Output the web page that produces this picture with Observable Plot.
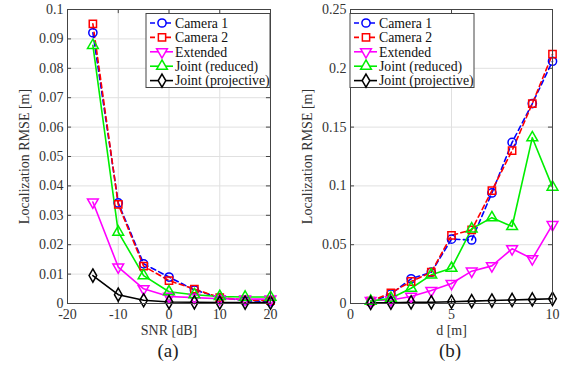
<!DOCTYPE html>
<html><head><meta charset="utf-8">
<script src="https://cdn.jsdelivr.net/npm/d3@7"></script>
<script src="https://cdn.jsdelivr.net/npm/@observablehq/plot@0.6"></script>
<style>
body{margin:0;background:#fff;}
#wrap{position:relative;width:571px;height:369px;font-family:"Liberation Serif",serif;overflow:hidden;}
.panel{position:absolute;top:0;}
.cap{position:absolute;top:340px;font-size:19px;color:#222;transform:translateX(-50%);font-family:"Liberation Serif",serif;}
</style></head><body><div id="wrap"></div>
<script>
const seriesNames = ["Camera 1","Camera 2","Extended","Joint (reduced)","Joint (projective)"];
const seriesColors = ["#0000ff","#ff0000","#ff00ff","#00ee00","#000000"];
const seriesSymbols = ["circle","square","triangle","triangle","diamond"];
const seriesRotate = [0,0,180,0,0];
const seriesDashed = [true,true,false,false,false];

// Panel (a): RMSE vs SNR
const snr = [-15,-10,-5,0,5,10,15,20];
const snrCamera1 = [0.0921,0.0342,0.0135,0.0090,0.0046,0.0020,0.0010,0.0006];
const snrCamera2 = [0.0951,0.0337,0.0127,0.0078,0.0049,0.0020,0.0012,0.0010];
const snrExtended = [0.0345,0.0124,0.0050,0.0024,0.0020,0.0016,0.0015,0.0015];
const snrJointReduced = [0.0878,0.0243,0.0095,0.0040,0.0030,0.0024,0.0022,0.0022];
const snrJointProjective = [0.0095,0.0030,0.0011,0.0005,0.0004,0.0003,0.0003,0.0003];
const snrXTicks = [-20,-10,0,10,20];
const snrYTicks = [0,0.01,0.02,0.03,0.04,0.05,0.06,0.07,0.08,0.09,0.1];

// Panel (b): RMSE vs distance
const dist = [1,2,3,4,5,6,7,8,9,10];
const distCamera1 = [0.001,0.008,0.021,0.0266,0.0547,0.054,0.094,0.137,0.170,0.206];
const distCamera2 = [0.002,0.009,0.0187,0.0266,0.058,0.0626,0.096,0.130,0.170,0.212];
const distExtended = [0.0025,0.003,0.006,0.011,0.017,0.0275,0.032,0.0465,0.038,0.067];
const distJointReduced = [0.002,0.0045,0.013,0.0244,0.030,0.0635,0.073,0.0655,0.141,0.099];
const distJointProjective = [0.0005,0.0007,0.001,0.001,0.0015,0.002,0.0025,0.003,0.0035,0.004];
const distXTicks = [0,5,10];
const distYTicks = [0,0.05,0.1,0.15,0.2,0.25];

function makeTable(xs, ys) {
  const rows = [];
  ys.forEach((arr, s) => arr.forEach((v, i) => rows.push({x: xs[i], y: v, s})));
  return rows;
}

const SERIF = "'Liberation Serif', 'DejaVu Serif', serif";
function symR(s) { return seriesSymbols[s]==="triangle" ? 4 : seriesSymbols[s]==="diamond" ? 4 : 4.1; }

function panel({rows, xDomain, yDomain, xTicks, yTicks, xLabel, marginLeft, marginRight, legendX}) {
  const W = 285, H = 369;
  const xr = xDomain[1]-xDomain[0], yr = yDomain[1]-yDomain[0];
  const marks = [
    Plot.gridX(xTicks, {stroke:"#e0e0e0", strokeOpacity:1}),
    Plot.gridY(yTicks, {stroke:"#e0e0e0", strokeOpacity:1}),
    Plot.ruleX(xTicks, {y1: yDomain[0], y2: yDomain[0] + yr*0.014, stroke:"#444"}),
    Plot.ruleX(xTicks, {y1: yDomain[1], y2: yDomain[1] - yr*0.014, stroke:"#444"}),
    Plot.ruleY(yTicks, {x1: xDomain[0], x2: xDomain[0] + xr*0.02, stroke:"#444"}),
    Plot.ruleY(yTicks, {x1: xDomain[1], x2: xDomain[1] - xr*0.02, stroke:"#444"}),
    Plot.axisX(xTicks, {tickSize:0, tickPadding:6, tickFormat: d => String(d), label: xLabel, labelAnchor:"center", labelArrow:"none", labelOffset:31, fontSize:14}),
    Plot.axisY(yTicks, {tickSize:0, tickPadding:4, tickFormat: d3.format("~g"), label: "Localization RMSE [m]", labelAnchor:"center", labelArrow:"none", labelOffset:48, fontSize:14}),
  ];
  for (let s = 0; s < 5; s++) {
    const d = rows.filter(r => r.s === s);
    marks.push(Plot.line(d, {x:"x", y:"y", stroke: seriesColors[s], strokeWidth:1.6, strokeDasharray: seriesDashed[s] ? "5,3.5" : null}));
  }
  for (let s = 0; s < 5; s++) {
    const d = rows.filter(r => r.s === s);
    marks.push(Plot.dot(d, {x:"x", y:"y", stroke: seriesColors[s], fill:"none", strokeWidth:1.5, symbol: seriesSymbols[s], rotate: seriesRotate[s], r: symR(s)}));
  }
  marks.push(Plot.frame({stroke:"#444"}));
  const svg = Plot.plot({
    width: W, height: H, marginTop: 9, marginBottom: 66, marginLeft, marginRight,
    x: {domain: xDomain}, y: {domain: yDomain},
    style: {fontFamily: SERIF, fontSize: "14px", color: "#333", background: "transparent", overflow:"visible"},
    marks
  });
  // legend
  const g = d3.select(svg).append("g").attr("transform", `translate(${legendX},13.5)`)
    .attr("text-anchor", "start").attr("font-family", SERIF);
  g.append("rect").attr("width", 124).attr("height", 74).attr("fill", "#fff").attr("stroke", "#444").attr("stroke-width", 1);
  seriesNames.forEach((name, s) => {
    const y = 9.5 + s*14.4;
    g.append("line").attr("x1", 4).attr("x2", 27).attr("y1", y).attr("y2", y)
      .attr("stroke", seriesColors[s]).attr("stroke-width", 1.6)
      .attr("stroke-dasharray", seriesDashed[s] ? "5,3" : null);
    const sym = {circle: d3.symbolCircle, square: d3.symbolSquare, triangle: d3.symbolTriangle, diamond: d3.symbolDiamond}[seriesSymbols[s]];
    const rr = symR(s);
    g.append("path").attr("d", d3.symbol(sym, Math.PI*rr*rr)())
      .attr("transform", `translate(16,${y}) rotate(${seriesRotate[s]})`)
      .attr("fill", "#fff").attr("stroke", seriesColors[s]).attr("stroke-width", 1.5);
    g.append("text").attr("x", 29).attr("y", y).attr("dy", "0.35em").attr("text-anchor", "start")
      .style("font-family", SERIF).style("font-size", "13.8px").attr("fill", "#111").text(name);
  });
  return svg;
}

const wrap = document.getElementById("wrap");
const a = panel({
  rows: makeTable(snr, [snrCamera1, snrCamera2, snrExtended, snrJointReduced, snrJointProjective]),
  xDomain: [-20, 20], yDomain: [0, 0.1], xTicks: snrXTicks, yTicks: snrYTicks,
  xLabel: "SNR [dB]", marginLeft: 67, marginRight: 15, legendX: 146
});
a.classList.add("panel"); a.style.left = "0px";
wrap.appendChild(a);
const b = panel({
  rows: makeTable(dist, [distCamera1, distCamera2, distExtended, distJointReduced, distJointProjective]),
  xDomain: [0, 10], yDomain: [0, 0.25], xTicks: distXTicks, yTicks: distYTicks,
  xLabel: "d [m]", marginLeft: 65, marginRight: 18, legendX: 65
});
b.classList.add("panel"); b.style.left = "285px";
wrap.appendChild(b);

const capA = document.createElement("div"); capA.className = "cap"; capA.style.left = "168px"; capA.textContent = "(a)";
const capB = document.createElement("div"); capB.className = "cap"; capB.style.left = "450px"; capB.textContent = "(b)";
wrap.appendChild(capA); wrap.appendChild(capB);
</script>
</body></html>
